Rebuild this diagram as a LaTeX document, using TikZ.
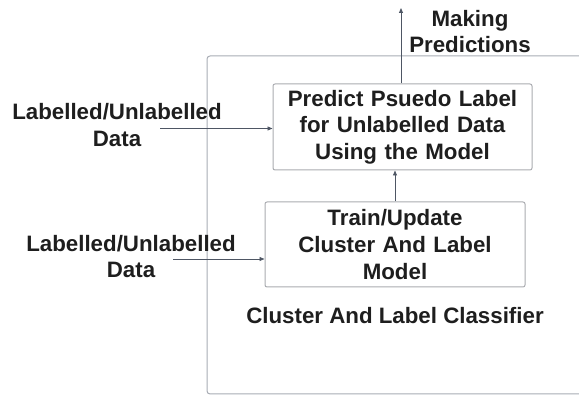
\documentclass[tikz,border=0pt]{standalone}
\usepackage{fontspec}
\setmainfont{Liberation Sans}
\usetikzlibrary{arrows.meta, positioning, calc}
\definecolor{boxEdge}{RGB}{170,172,176}
\definecolor{frameEdge}{RGB}{168,172,180}
\definecolor{flowLine}{RGB}{78,86,100}
\definecolor{txt}{RGB}{30,30,30}

\begin{document}
\begin{tikzpicture}[
      x=1pt, y=-1pt,
      node distance=31pt and 20pt,
      stage/.style={rectangle, draw=boxEdge, line width=1pt, rounded corners=2pt, fill=white, text width=250pt, minimum height=86pt, align=center, inner sep=0pt},
      tag/.style={align=center, inner sep=0pt},
      frame/.style={draw=frameEdge, line width=1pt, rounded corners=3pt},
      arrow/.style={-{Triangle[length=5pt, width=4pt]}, line width=0.9pt, flowLine},
      every node/.style={font=\fontsize{22.3}{26.5}\selectfont\bfseries, text=txt}
  ]
      \useasboundingbox (0,0) rectangle (579,395);
      % outer classifier frame, runs off the right edge
      \draw[frame] (207,56) rectangle (640,394);
      \node[stage, text width=260pt, minimum height=85pt, font=\fontsize{22.3}{27}\selectfont\bfseries] (train) at (395,244.5) {Train/Update\\Cluster And Label\\Model};
      \node[stage, text width=259pt, above=31pt of train, xshift=7.5pt] (predict) {Predict Psuedo Label\\for Unlabelled Data\\Using the Model};
      \node[tag, below=20pt of train] (clf) {Cluster And Label Classifier};
      \node[tag] (data1) at (117,125) {Labelled/Unlabelled\\Data};
      \node[tag] (data2) at (131,256.5) {Labelled/Unlabelled\\Data};
      \node[tag] (pred) at (470,31.5) {Making\\Predictions};
      \coordinate (in1) at (160,128.5);
      \coordinate (in2) at (173,259);
      \coordinate (out) at (401,8);
      \draw[arrow] (in1) -- (in1 -| predict.west);
      \draw[arrow] (in2) -- (in2 -| train.west);
      \draw[arrow] (train.north) -- (train.north |- predict.south);
      \draw[arrow] (out |- predict.north) -- (out);
  \end{tikzpicture}
\end{document}
